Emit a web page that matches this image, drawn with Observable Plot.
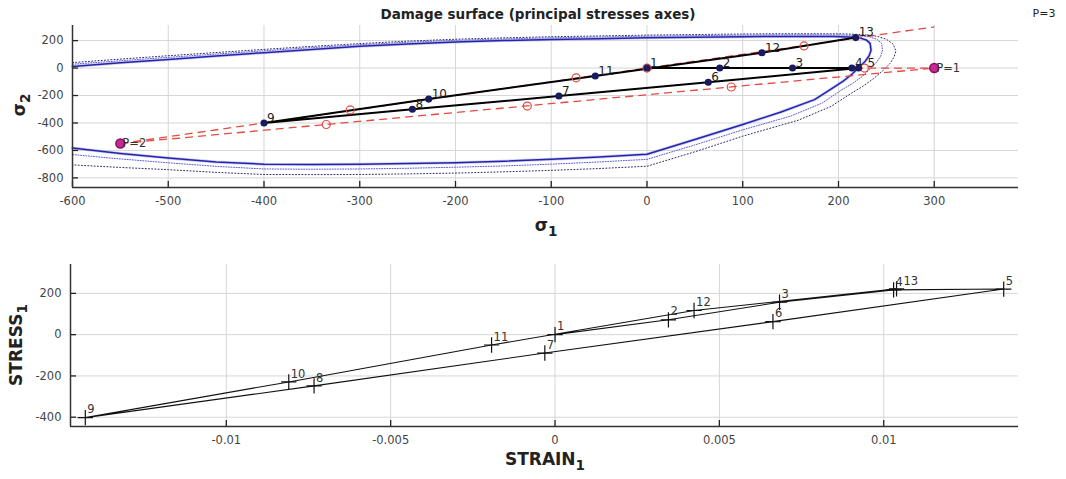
<!DOCTYPE html>
<html><head><meta charset="utf-8">
<script src="https://cdn.jsdelivr.net/npm/d3@7"></script>
<script src="https://cdn.jsdelivr.net/npm/@observablehq/plot@0.6"></script>
<style>
body{margin:0;background:#fff;font-family:"DejaVu Sans",sans-serif;}
#wrap{position:relative;width:1066px;height:479px;overflow:hidden;background:#fff;}
.abs{position:absolute;white-space:nowrap;color:#222;line-height:1;}
.lab{font-weight:bold;}
.lab sub{font-size:0.8em;vertical-align:-0.35em;}
</style></head><body><div id="wrap"></div>
<script>
// ---- Top chart: damage surface in principal stress space ----
const sigXTicks = [-600,-500,-400,-300,-200,-100,0,100,200,300];
const sigYTicks = [-800,-600,-400,-200,0,200];

// solid damage surface
const surfS1 = [-600,-550,-500,-450,-400,-350,-300,-250,-200,-150,-100,-50,0,50,100,140,170,195,210,222,229,233,234,232,228,222,214,205,195,175,140,100,50,0,-50,-100,-150,-200,-250,-300,-350,-400,-450,-500,-550,-600];
const surfS2 = [12,38,63,88,112,136,158,176,190,200,208,214,220,224,228,230,230,229,227,220,205,180,130,90,50,10,-45,-95,-140,-230,-320,-411,-520,-628,-648,-665,-679,-690,-696,-700,-702,-700,-685,-655,-622,-582];
// dotted surfaces
const dotAS1 = [-600,-550,-500,-450,-400,-350,-300,-250,-200,-150,-100,-50,0,50,100,140,175,200,218,232,240,245,246,244,240,234,225,214,203,183,150,100,50,0,-50,-100,-150,-200,-250,-300,-350,-400,-450,-500,-550,-600];
const dotAS2 = [28,53,78,102,126,149,170,188,202,212,220,226,232,236,240,242,242,241,238,228,210,180,130,85,45,0,-60,-115,-160,-255,-350,-450,-560,-665,-684,-700,-713,-722,-730,-735,-737,-735,-716,-690,-662,-630];
const dotBS1 = [-600,-550,-500,-450,-400,-350,-300,-250,-200,-150,-100,-50,0,50,100,140,180,205,225,240,250,257,260,258,254,247,236,225,213,192,158,100,50,0,-50,-100,-150,-200,-250,-300,-350,-400,-450,-500,-550,-600];
const dotBS2 = [40,65,90,113,136,158,178,196,210,220,228,234,240,244,248,250,250,249,244,232,210,175,125,80,35,-15,-80,-135,-185,-280,-380,-496,-610,-715,-732,-745,-756,-765,-771,-775,-776,-775,-760,-740,-724,-705];

// loading path (principal stresses)
const pathLabels = ["1","2","3","4","5","6","7","8","9","10","11","12","13"];
const pathS1 = [0,76,152,214,221,64,-92,-245,-400,-228,-54,120,218];
const pathS2 = [0,0,0,0,0,-103,-204,-300,-400,-226,-58,112,222];

// red dashed load directions
const dashFromS1 = [-550,-550,0];
const dashFromS2 = [-550,-550,0];
const dashToS1 = [300,300,300];
const dashToS2 = [300,0,0];
// red open circles
const redS1 = [0,227,88,-125,-335,-310,-74,164];
const redS2 = [0,0,-138,-277,-411,-305,-71,161];
// P markers
const pLabels = ["P=1","P=2"];
const pS1 = [300,-550];
const pS2 = [0,-550];

// ---- Bottom chart: stress-strain ----
const strainTicks = [-0.01,-0.005,0,0.005,0.01];
const stressTicks = [-400,-200,0,200];
const strain1 = [0,0.00345,0.00683,0.0103,0.01365,0.00663,-0.00031,-0.00733,-0.01429,-0.0081,-0.00193,0.00423,0.01039];
const stress1 = [0,72,157,217,221,63,-89,-248,-402,-229,-50,117,222];

const zipXY = (xs, ys) => xs.map((x,i)=>({x, y: ys[i]}));
const surf = zipXY(surfS1, surfS2);
const dotA = zipXY(dotAS1, dotAS2);
const dotB = zipXY(dotBS1, dotBS2);
const path = pathS1.map((x,i)=>({x, y: pathS2[i], label: pathLabels[i]}));
const dashes = dashFromS1.map((x,i)=>({x1:x, y1:dashFromS2[i], x2:dashToS1[i], y2:dashToS2[i]}));
const reds = zipXY(redS1, redS2);
const ps = pS1.map((x,i)=>({x, y:pS2[i], label:pLabels[i]}));
const ss = strain1.map((x,i)=>({x, y: stress1[i], label: pathLabels[i]}));

const wrap = document.getElementById("wrap");
const chartStyle = {fontFamily:"DejaVu Sans", fontSize:"11.5px", color:"#333", background:"transparent", overflow:"visible"};
const fmt = d => String(d);

const topXDom = [-600,388], topYDom = [-870,310];
const topChart = Plot.plot({
  width:1066, height:245, marginLeft:72, marginRight:48, marginTop:25, marginBottom:58,
  x:{domain:topXDom}, y:{domain:topYDom},
  style: chartStyle,
  marks:[
    Plot.gridX(sigXTicks,{stroke:"#d6d6d6", strokeOpacity:1}),
    Plot.gridY(sigYTicks,{stroke:"#d6d6d6", strokeOpacity:1}),
    Plot.line(dotB,{x:"x", y:"y", stroke:"#2a2a66", strokeWidth:1, strokeDasharray:"1,2.2"}),
    Plot.line(dotA,{x:"x", y:"y", stroke:"#5a5ad8", strokeWidth:1, strokeDasharray:"1,1.6"}),
    Plot.line(surf,{x:"x", y:"y", stroke:"#9a9af0", strokeWidth:3, strokeOpacity:0.5}),
    Plot.line(surf,{x:"x", y:"y", stroke:"#2525a8", strokeWidth:1.5}),
    Plot.link(dashes,{x1:"x1", y1:"y1", x2:"x2", y2:"y2", stroke:"#e24a42", strokeWidth:1.3, strokeDasharray:"8,5"}),
    Plot.line(path,{x:"x", y:"y", stroke:"#000", strokeWidth:2}),
    Plot.dot(reds,{x:"x", y:"y", r:4, stroke:"#e04a40", strokeWidth:1.2, fill:"none"}),
    Plot.dot(path,{x:"x", y:"y", r:2.8, fill:"#1a1a5e", stroke:"#1a1a5e"}),
    Plot.dot(ps,{x:"x", y:"y", r:4.5, fill:"#c8288f", stroke:"#8a1060"}),
    Plot.text(ps,{x:"x", y:"y", text:"label", textAnchor:"start", dx:2, fill:"#333", fontSize:11.5}),
    Plot.text(path,{filter:d=>d.label!=="5", x:"x", y:"y", text:"label", textAnchor:"start", dx:3, dy:-5, fill:"#222", fontSize:12}),
    Plot.text(path,{filter:d=>d.label==="5", x:"x", y:"y", text:"label", textAnchor:"start", dx:9, dy:-5, fill:"#222", fontSize:12}),
    Plot.tickX(sigXTicks,{x:d=>d, insetTop:156, stroke:"#222", strokeWidth:1.3}),
    Plot.tickY(sigYTicks,{y:d=>d, insetRight:940, stroke:"#222", strokeWidth:1.3}),
    Plot.ruleX([topXDom[0]],{stroke:"#333", strokeWidth:1.5}),
    Plot.ruleY([topYDom[0]],{stroke:"#333", strokeWidth:1.5}),
    Plot.axisX(sigXTicks,{tickSize:0, tickPadding:9, tickFormat:fmt, label:null, fill:"#444"}),
    Plot.axisY(sigYTicks,{tickSize:0, tickPadding:9, tickFormat:fmt, label:null, fill:"#444"})
  ]
});
topChart.style.position="absolute"; topChart.style.left="0px"; topChart.style.top="0px";
wrap.appendChild(topChart);

const botXDom = [-0.01474,0.0141], botYDom = [-445,340];
const botChart = Plot.plot({
  width:1066, height:234, marginLeft:70, marginRight:48, marginTop:19, marginBottom:53,
  x:{domain:botXDom}, y:{domain:botYDom},
  style: chartStyle,
  marks:[
    Plot.gridX(strainTicks,{stroke:"#d6d6d6", strokeOpacity:1}),
    Plot.gridY(stressTicks,{stroke:"#d6d6d6", strokeOpacity:1}),
    Plot.line(ss,{x:"x", y:"y", stroke:"#111", strokeWidth:1.1}),
    Plot.dot(ss,{x:"x", y:"y", symbol:"plus", r:5, stroke:"#111", strokeWidth:1.2}),
    Plot.text(ss,{filter:d=>d.label!=="13", x:"x", y:"y", text:"label", textAnchor:"start", dx:2, dy:-8, fill:"#333", fontSize:11.5}),
    Plot.text(ss,{filter:d=>d.label==="13", x:"x", y:"y", text:"label", textAnchor:"start", dx:7, dy:-8, fill:"#333", fontSize:11.5}),
    Plot.tickX(strainTicks,{x:d=>d, insetTop:156, stroke:"#222", strokeWidth:1.3}),
    Plot.tickY(stressTicks,{y:d=>d, insetRight:942, stroke:"#222", strokeWidth:1.3}),
    Plot.ruleX([botXDom[0]],{stroke:"#333", strokeWidth:1.5}),
    Plot.ruleY([botYDom[0]],{stroke:"#333", strokeWidth:1.5}),
    Plot.axisX(strainTicks,{tickSize:0, tickPadding:9, tickFormat:fmt, label:null, fill:"#444"}),
    Plot.axisY(stressTicks,{tickSize:0, tickPadding:9, tickFormat:fmt, label:null, fill:"#444"})
  ]
});
botChart.style.position="absolute"; botChart.style.left="0px"; botChart.style.top="245px";
wrap.appendChild(botChart);

function addLabel(html, cx, cy, size, rotate, extraClass){
  const d = document.createElement("div");
  d.className = "abs " + (extraClass||"");
  d.innerHTML = html;
  d.style.fontSize = size + "px";
  d.style.left = cx + "px"; d.style.top = cy + "px";
  d.style.transform = "translate(-50%,-50%)" + (rotate ? " rotate(-90deg)" : "");
  wrap.appendChild(d);
  return d;
}
addLabel("Damage surface (principal stresses axes)", 538, 15, 13.5, false, "lab");
addLabel("P=3", 1044, 13, 11, false, "");
addLabel("σ<sub>1</sub>", 546, 228, 17, false, "lab");
addLabel("σ<sub>2</sub>", 22, 105, 17, true, "lab");
addLabel("STRAIN<sub>1</sub>", 545, 462, 17, false, "lab");
addLabel("STRESS<sub>1</sub>", 19, 345, 17, true, "lab");
</script></body></html>
